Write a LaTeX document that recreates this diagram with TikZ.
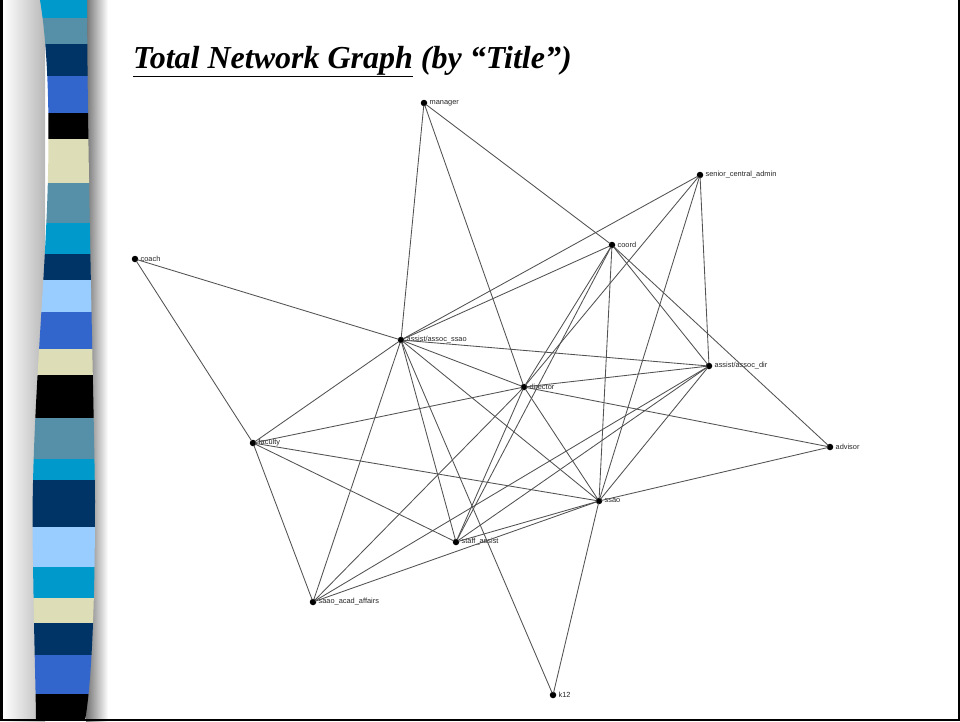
\documentclass[tikz,border=0pt]{standalone}
\usepackage{fontspec}
\setmainfont{Liberation Serif}
\newfontfamily\lblfont{Liberation Sans}
\definecolor{cyanS}{HTML}{0099CC}
\definecolor{steelS}{HTML}{5590A8}
\definecolor{navyS}{HTML}{003366}
\definecolor{royalS}{HTML}{3366CC}
\definecolor{beigeS}{HTML}{DDDDB8}
\definecolor{lightS}{HTML}{99CCFF}
\tikzset{
  dot/.style={circle,fill=black,inner sep=0pt,minimum size=6.5pt},
  lbl/.style={font=\lblfont\fontsize{7.4}{8}\selectfont,text=black!85,anchor=west,inner sep=0pt},
  edge/.style={draw=black!68,line width=0.85pt,shorten <=-1pt,shorten >=-1pt}
}
\begin{document}
\begin{tikzpicture}[x=1pt,y=-1pt]
\useasboundingbox (0,0) rectangle (960,721);
\fill[white] (0,0) rectangle (960,721);
% left gradient
\shade[left color=white,right color=black!28] (3,0) rectangle (45,721);
% right shadow
\shade[left color=black!55,right color=white] (86,0) rectangle (108,721);
% stripe bar
\begin{scope}
\clip (40,0) .. controls (50,60) and (50,150) .. (46,230) .. controls (42,320) and (30,450) .. (33,560) .. controls (34,640) and (36,700) .. (36,721) -- (85,721) .. controls (92,680) and (95,600) .. (95,500) .. controls (94,400) and (88,200) .. (87,0) -- cycle;
\fill[cyanS]  (20,0)   rectangle (110,18);
\fill[steelS] (20,18)  rectangle (110,44);
\fill[navyS]  (20,44)  rectangle (110,76);
\fill[royalS] (20,76)  rectangle (110,113);
\fill[black]  (20,113) rectangle (110,139);
\fill[beigeS] (20,139) rectangle (110,183);
\fill[steelS] (20,183) rectangle (110,223);
\fill[cyanS]  (20,223) rectangle (110,254);
\fill[navyS]  (20,254) rectangle (110,280);
\fill[lightS] (20,280) rectangle (110,312);
\fill[royalS] (20,312) rectangle (110,349);
\fill[beigeS] (20,349) rectangle (110,375);
\fill[black]  (20,375) rectangle (110,418);
\fill[steelS] (20,418) rectangle (110,459);
\fill[cyanS]  (20,459) rectangle (110,480);
\fill[navyS]  (20,480) rectangle (110,527);
\fill[lightS] (20,527) rectangle (110,567);
\fill[cyanS]  (20,567) rectangle (110,598);
\fill[beigeS] (20,598) rectangle (110,623);
\fill[navyS]  (20,623) rectangle (110,655);
\fill[royalS] (20,655) rectangle (110,694);
\fill[black]  (20,694) rectangle (110,721);
\end{scope}
% frame
\draw[black,line width=2.5pt] (1.25,0) -- (1.25,719.75) -- (958.75,719.75) -- (958.75,0);
% title
\node[anchor=base west,inner sep=0pt,font=\fontsize{32}{38}\selectfont\bfseries\itshape] (title) at (133,68) {\underline{Total Network Graph} (by “Title”)};
% nodes
\node[dot] (manager) at (424,103) {};
\node[dot] (senior) at (700,175) {};
\node[dot] (coord) at (612,245) {};
\node[dot] (coach) at (135,259) {};
\node[dot] (aassao) at (401,340) {};
\node[dot] (aadir) at (709,366) {};
\node[dot] (director) at (524,387) {};
\node[dot] (faculty) at (253,443) {};
\node[dot] (advisor) at (830,447) {};
\node[dot] (ssao) at (599,501) {};
\node[dot] (staff) at (456,542) {};
\node[dot] (saao) at (313,602) {};
\node[dot] (k12) at (553,695) {};
% labels
\node[lbl] (managerL) at ([xshift=2pt]manager.east) {manager};
\node[lbl] (seniorL) at ([xshift=2pt]senior.east) {senior\_central\_admin};
\node[lbl] (coordL) at ([xshift=2pt]coord.east) {coord};
\node[lbl] (coachL) at ([xshift=2pt]coach.east) {coach};
\node[lbl] (aassaoL) at ([xshift=2pt]aassao.east) {assist/assoc\_ssao};
\node[lbl] (aadirL) at ([xshift=2pt]aadir.east) {assist/assoc\_dir};
\node[lbl] (directorL) at ([xshift=2pt]director.east) {director};
\node[lbl] (facultyL) at ([xshift=2pt]faculty.east) {faculty};
\node[lbl] (advisorL) at ([xshift=2pt]advisor.east) {advisor};
\node[lbl] (ssaoL) at ([xshift=2pt]ssao.east) {ssao};
\node[lbl] (staffL) at ([xshift=2pt]staff.east) {staff\_assist};
\node[lbl] (saaoL) at ([xshift=2pt]saao.east) {saao\_acad\_affairs};
\node[lbl] (k12L) at ([xshift=2pt]k12.east) {k12};
% edges
\foreach \a/\b in {manager/aassao,manager/director,manager/coord,
  senior/aassao,senior/director,senior/ssao,senior/aadir,
  coord/aassao,coord/aadir,coord/advisor,coord/ssao,coord/director,coord/staff,
  coach/aassao,coach/faculty,
  aassao/aadir,aassao/director,aassao/faculty,aassao/saao,aassao/staff,aassao/ssao,aassao/k12,
  director/faculty,director/aadir,director/advisor,director/ssao,director/staff,director/saao,
  aadir/ssao,aadir/staff,advisor/ssao,
  ssao/faculty,ssao/k12,ssao/staff,ssao/saao,
  staff/faculty,saao/faculty,saao/aadir}
  \draw[edge] (\a) -- (\b);
\end{tikzpicture}
\end{document}
